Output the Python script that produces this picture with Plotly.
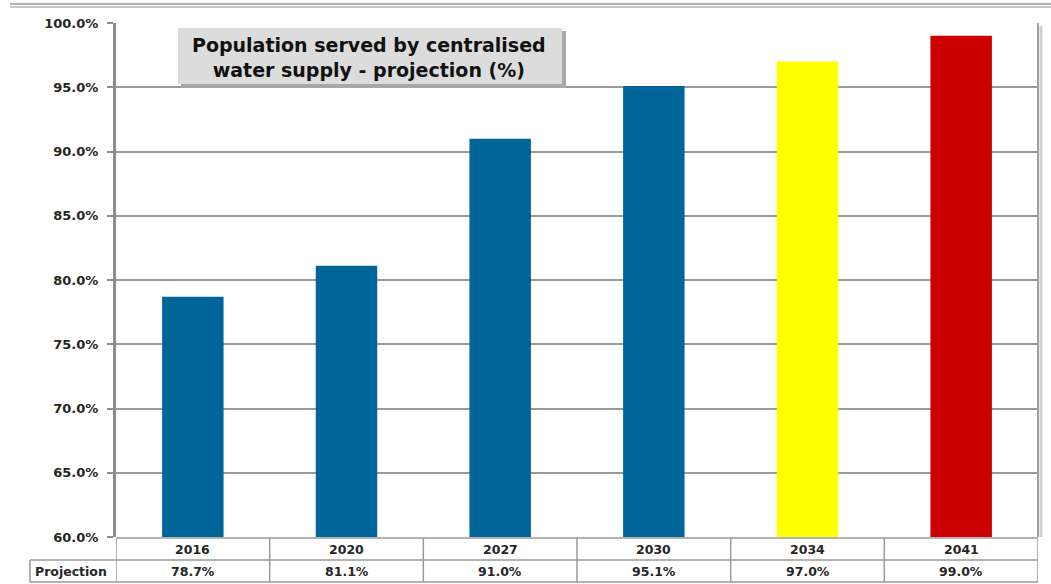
import plotly.graph_objects as go

# Projected share of population served by centralised water supply
years = ["2016", "2020", "2027", "2030", "2034", "2041"]
projection = [78.7, 81.1, 91.0, 95.1, 97.0, 99.0]
bar_colors = ["#006699", "#006699", "#006699", "#006699", "#FFFF00", "#CC0000"]
y_ticks = [60, 65, 70, 75, 80, 85, 90, 95, 100]
row_label = "Projection"
title_lines = ["Population served by centralised", "water supply - projection (%)"]

W, H = 1051, 584
ML, MR, MT, MB = 116, 13, 23, 47
PW, PH = W - ML - MR, H - MT - MB


def px_x(x):
    return (x - ML) / PW


def px_y(y):
    return (H - MB - y) / PH


FONT = "DejaVu Sans"
TXT = "#262626"
GRID = "#9a9a9a"
cell_font = dict(family=FONT, size=12.5, color=TXT, weight="bold")

fig = go.Figure()
fig.add_trace(go.Bar(
    x=years, y=projection, width=0.4,
    marker=dict(color=bar_colors, line=dict(width=0)),
    hoverinfo="x+y",
))

shapes = []
annotations = []

# double grey rule across the top of the page
for yy, c in [(4, "#b0b0b0"), (7, "#c8c8c8")]:
    shapes.append(dict(type="line", xref="paper", yref="paper",
                       x0=px_x(10), x1=px_x(W), y0=px_y(yy), y1=px_y(yy),
                       line=dict(color=c, width=2), layer="above"))

# right border of the plot area with its shadow
shapes.append(dict(type="line", xref="paper", yref="paper",
                   x0=1.0, x1=1.0, y0=px_y(537), y1=px_y(23),
                   line=dict(color="#a0a0a0", width=2)))
shapes.append(dict(type="line", xref="paper", yref="paper",
                   x0=px_x(1041), x1=px_x(1041), y0=px_y(537), y1=px_y(26),
                   line=dict(color="#d0d0d0", width=3)))

# data table under the chart
row_top, row_mid, row_bot = px_y(538), px_y(560), px_y(582)
tbl_line = dict(color="#9a9a9a", width=1.5)
shapes.append(dict(type="line", xref="paper", yref="paper", x0=0, x1=1,
                   y0=row_top, y1=row_top, line=tbl_line))
shapes.append(dict(type="line", xref="paper", yref="paper", x0=px_x(30), x1=1,
                   y0=row_mid, y1=row_mid, line=tbl_line))
shapes.append(dict(type="line", xref="paper", yref="paper", x0=px_x(30), x1=1,
                   y0=row_bot, y1=row_bot, line=tbl_line))
shapes.append(dict(type="line", xref="paper", yref="paper", x0=px_x(30), x1=px_x(30),
                   y0=row_mid, y1=row_bot, line=tbl_line))
for i in range(len(years) + 1):
    shapes.append(dict(type="line", xref="x", yref="paper",
                       x0=i - 0.5, x1=i - 0.5, y0=row_top, y1=row_bot,
                       line=tbl_line))

for i, (yr, val) in enumerate(zip(years, projection)):
    annotations.append(dict(x=i, y=(row_top + row_mid) / 2, xref="x", yref="paper",
                            xanchor="center", yanchor="middle",
                            text=yr, showarrow=False, font=cell_font))
    annotations.append(dict(x=i, y=(row_mid + row_bot) / 2, xref="x", yref="paper",
                            xanchor="center", yanchor="middle",
                            text=f"{val:.1f}%", showarrow=False, font=cell_font))
annotations.append(dict(x=px_x(71), y=(row_mid + row_bot) / 2, xref="paper", yref="paper",
                        xanchor="center", yanchor="middle",
                        text=row_label, showarrow=False, font=cell_font))

# title box with drop shadow
shapes.append(dict(type="rect", xref="paper", yref="paper",
                   x0=px_x(181), x1=px_x(566), y0=px_y(88), y1=px_y(31),
                   fillcolor="#a8a8a8", line=dict(width=0), layer="above"))
shapes.append(dict(type="rect", xref="paper", yref="paper",
                   x0=px_x(178), x1=px_x(562), y0=px_y(84), y1=px_y(28),
                   fillcolor="#dcdcdc", line=dict(width=0), layer="above"))
annotations.append(dict(x=px_x(369), y=px_y(58), xref="paper", yref="paper",
                        xanchor="center", yanchor="middle",
                        text="<br>".join(title_lines), showarrow=False, align="center",
                        font=dict(family=FONT, size=19, color="#111111", weight="bold")))

fig.update_layout(
    width=W, height=H,
    margin=dict(l=ML, r=MR, t=MT, b=MB, pad=0),
    paper_bgcolor="white", plot_bgcolor="white",
    showlegend=False,
    bargap=0.6,
    shapes=shapes, annotations=annotations,
    xaxis=dict(type="category", range=[-0.5, 5.5], showticklabels=False,
               showgrid=False, zeroline=False, showline=False, ticks=""),
    yaxis=dict(range=[60, 100], tickvals=y_ticks,
               ticktext=[f"{v:.1f}%" for v in y_ticks],
               showgrid=True, gridcolor=GRID, gridwidth=1.5,
               showline=True, linecolor="#8c8c8c", linewidth=3,
               ticks="outside", ticklen=6, tickcolor="#8c8c8c", tickwidth=1.5,
               ticklabelstandoff=6,
               zeroline=False,
               tickfont=dict(family=FONT, size=13, color=TXT, weight="bold")),
)

fig.write_html("out.html")
